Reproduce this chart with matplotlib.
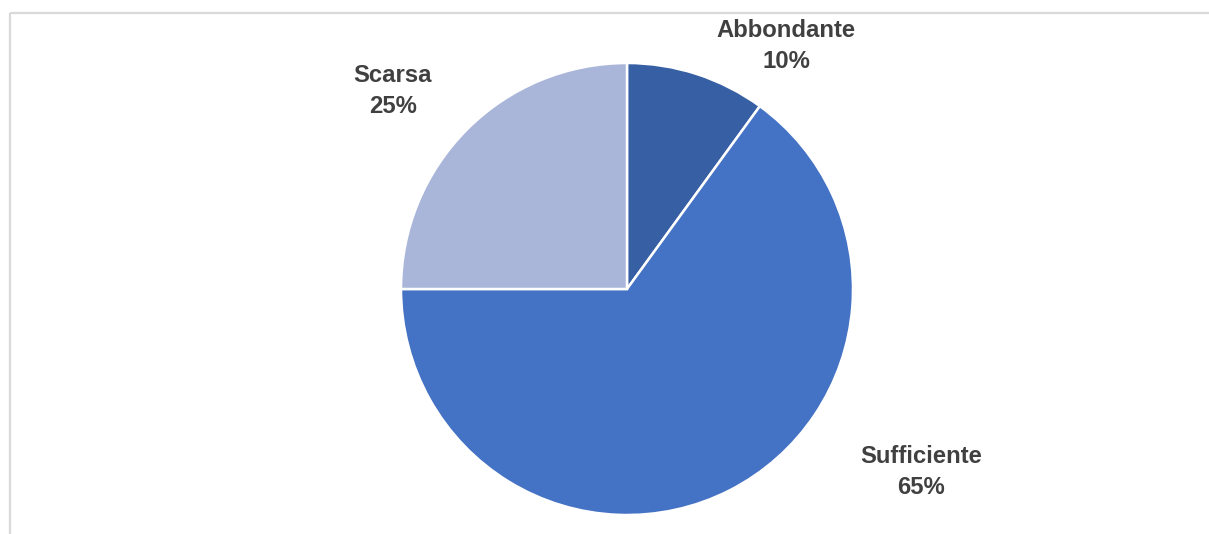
import matplotlib.pyplot as plt
from matplotlib.patches import Rectangle

labels = ['Abbondante', 'Sufficiente', 'Scarsa']
shares = [10, 65, 25]
colors = ['#375FA3', '#4472C4', '#A9B6DA']
# label anchor points (pixels from top-left)
label_xy = [(786, 46), (921, 472), (393, 91)]

W, H = 1209, 534
fig = plt.figure(figsize=(W / 100, H / 100), dpi=100)
ax = fig.add_axes([0, 0, 1, 1])

# chart area border (top and left edges visible)
ax.add_patch(Rectangle((9.5, 12.5), W + 20, H + 20, fill=False,
                       edgecolor='#D9D9D9', linewidth=1.6, clip_on=False))

# y axis is inverted, so counterclockwise here runs clockwise on screen
ax.pie(shares, colors=colors, startangle=-90, counterclock=True,
       center=(627, 289), radius=226, frame=True,
       wedgeprops=dict(edgecolor='white', linewidth=1.8))
ax.set_xlim(0, W)
ax.set_ylim(H, 0)
ax.axis('off')

for name, val, (x, y) in zip(labels, shares, label_xy):
    ax.text(x, y, f'{name}\n{val}%', ha='center', va='center',
            fontsize=17.2, fontweight='bold', color='#404040',
            family='Liberation Sans', linespacing=1.4)

fig.savefig('out.png', dpi=100)
